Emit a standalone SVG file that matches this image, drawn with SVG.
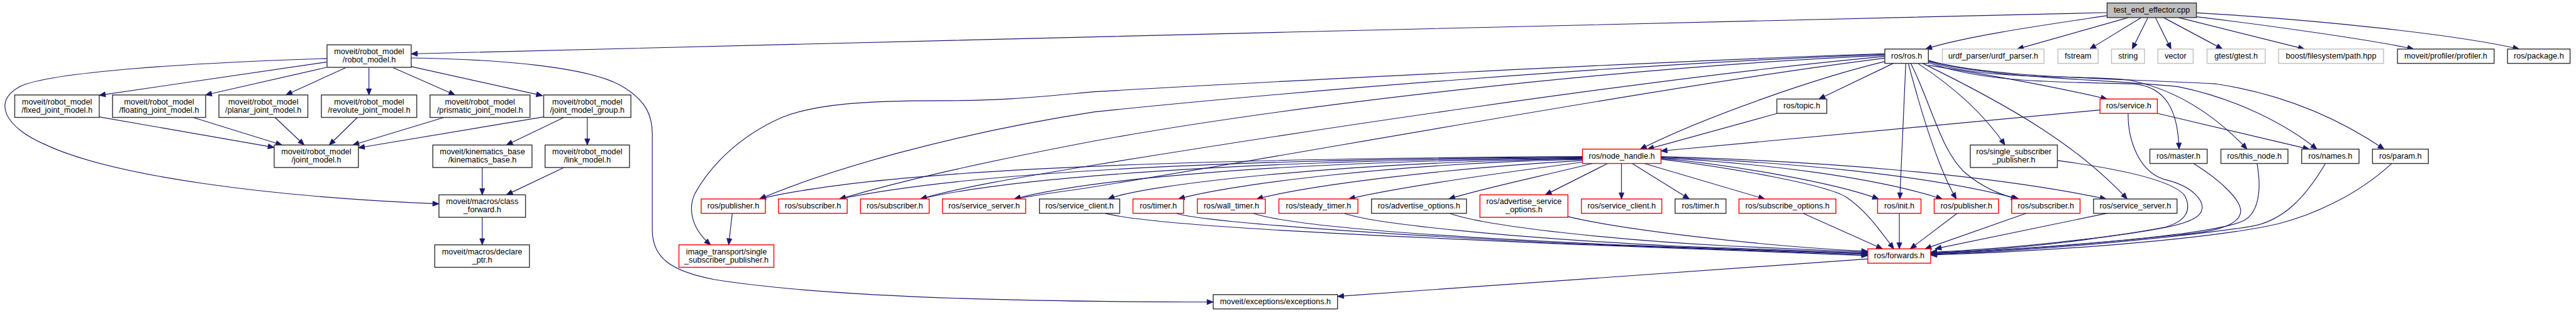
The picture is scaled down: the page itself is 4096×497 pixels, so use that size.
<svg xmlns="http://www.w3.org/2000/svg" width="4096" height="497" viewBox="0 0 4096 497">
<defs>
<marker id="ar" markerWidth="12" markerHeight="10" refX="11" refY="4.5" orient="auto" markerUnits="userSpaceOnUse" overflow="visible">
<path d="M0,0 L11,4.5 L0,9 z" fill="#191970" stroke="#191970" stroke-width="1"/>
</marker>
</defs>
<style>
rect{fill:#fff;stroke-width:1.6}
.b{stroke:#333}
.r{stroke:#ff0000}
.g{stroke:#bfbfbf}
.root{fill:#bfbfbf;stroke:#333}
text{font-family:"Liberation Sans",Arial,sans-serif;font-size:14.3px;fill:#000;text-anchor:middle}
#edges path{fill:none;stroke:#191970;stroke-width:1.3;marker-end:url(#ar)}
</style>
<rect x="0" y="0" width="4096" height="497" style="fill:#fff;stroke:none"/>
<g transform="scale(0.888)">
<g id="edges">
<path d="M3773,22.5 C2800,45 1700,72 736.3,96.3"/>
<path d="M3773,28 C3680,42 3520,64 3448,87.7"/>
<path d="M3811,31.4 L3612,87.7"/>
<path d="M3834,31.4 L3742,87.7"/>
<path d="M3846,31.4 L3818,87.7"/>
<path d="M3859.6,31.4 L3887.5,87.7"/>
<path d="M3874,31.4 L3979.6,87.7"/>
<path d="M3901,31.4 L4126.5,87.7"/>
<path d="M3933,30 C4060,45 4250,72 4322,87.7"/>
<path d="M3933,23 C4150,35 4400,62 4511,87.7"/>
<path d="M584.5,111 L177.6,170.4"/>
<path d="M584.5,120.5 L368,169.8"/>
<path d="M619,121 L512,169.8"/>
<path d="M660.6,121 L660.6,169.8"/>
<path d="M704,121 L814.8,169.8"/>
<path d="M736,119 L971.5,171"/>
<path d="M585.6,104.6 C350,112 90,128 35,155 C-15,182 10,228 80,258 C200,315 480,352 786,364.5"/>
<path d="M736.3,103.6 C900,106 1050,120 1110,152 C1160,180 1168,210 1168,240 L1168,411 C1168,460 1200,485 1280,500 C1500,535 1900,540 2172.4,540"/>
<path d="M177.6,209 L491,263.6"/>
<path d="M345.7,210 L505,259.3"/>
<path d="M492.5,210 L544.7,259.3"/>
<path d="M640,210 L589.5,259.3"/>
<path d="M794.9,210 L631.7,259.3"/>
<path d="M973.5,209 L641.7,264.3"/>
<path d="M1009.8,210 L906.8,259.3"/>
<path d="M1051.6,210 L1051.6,259.3"/>
<path d="M863.5,299.5 L863.5,348.4"/>
<path d="M1009.8,299.5 L906.8,348.4"/>
<path d="M863.5,388.6 L863.5,437.8"/>
<path d="M1311.2,381.4 L1304.8,437.8"/>
<path d="M3375,96 C3000,108 2200,150 1960,164 C1850,174 1800,180 1685,180 C1550,180 1460,186 1400,210 C1320,245 1270,300 1245,345 C1230,375 1240,410 1272.4,437.8"/>
<path d="M3375,97 C2900,115 2300,165 1960,200 C1700,240 1480,305 1360,355.8"/>
<path d="M3375,99 C2900,120 2300,190 1960,252 C1750,292 1620,322 1503,355.8"/>
<path d="M3375,101 C2950,140 2300,240 1960,295 C1820,318 1720,335 1648,355.8"/>
<path d="M3375,104 C3000,150 2300,280 1940,337 C1880,345 1850,350 1816,355.8"/>
<path d="M3390,113.3 L3257,177.1"/>
<path d="M3375,110 C3250,140 3050,210 2937,266.7"/>
<path d="M3181.7,203 L2950,266.7"/>
<path d="M3760.3,196.7 L2974.2,270"/>
<path d="M3412.5,113.3 L3401.8,355.8"/>
<path d="M3417,113.3 C3440,200 3470,300 3503,355.8"/>
<path d="M3421.4,113.3 C3460,190 3475,270 3520,310 C3550,335 3580,348 3612.5,355.8"/>
<path d="M3434,113.3 C3490,150 3550,200 3590,259.3"/>
<path d="M3443,113.3 C3600,190 3720,260 3809,355.8"/>
<path d="M3453,116.7 C3600,140 3700,160 3773,177.1"/>
<path d="M3453,112 C3560,150 3700,146 3820,150 C3880,155 3900,200 3901.8,266.7"/>
<path d="M3453,110 C3560,145 3700,133 3811,143 C3900,160 3970,210 4023.6,266.7"/>
<path d="M3453,109 C3560,140 3750,140 3900,155 C4000,175 4090,220 4148.7,266.7"/>
<path d="M3453,108 C3560,140 3800,140 3968,150 C4100,170 4200,220 4269,266.7"/>
<path d="M3863,202.7 L4135,266.7"/>
<path d="M3810.7,202.7 C3810,250 3830,310 3880,322 C3930,335 3945,360 3943,373 C3940,400 3880,410 3700,433 C3600,445 3520,450 3457,452"/>
<path d="M3684,287 C3780,300 3890,320 3912,350 C3925,375 3915,395 3878,406 C3780,425 3600,445 3457,451"/>
<path d="M3927.7,292.3 C3980,325 4015,360 4012,380 C4008,405 3960,415 3900,420 C3750,435 3600,448 3457,453"/>
<path d="M4041.5,292.3 C4050,340 4045,385 4012,397 C3950,420 3700,442 3457,454"/>
<path d="M4164,292.3 C4130,350 4090,395 4030,405 C3900,425 3650,448 3457,455"/>
<path d="M4282.6,292.3 C4220,350 4140,385 4080,400 C3950,430 3650,450 3457,456"/>
<path d="M3773,381.4 L3465,445"/>
<path d="M3628,381.4 L3447,445"/>
<path d="M3504.5,381.4 L3420.5,445"/>
<path d="M3401,381.4 L3401,445"/>
<path d="M3228.6,381.4 L3371,445"/>
<path d="M2974.2,284.7 C3100,300 3270,330 3305,352 C3340,375 3365,410 3391,445"/>
<path d="M2974.2,283 C3100,295 3280,325 3364,355.8"/>
<path d="M2974.2,282 C3150,292 3350,315 3478,355.8"/>
<path d="M2974.2,281 C3200,290 3450,312 3615,355.8"/>
<path d="M2974.2,280 C3250,288 3550,310 3771.5,355.8"/>
<path d="M2878.7,292.3 L2767,348.4"/>
<path d="M2903.5,292.3 L2903.5,355.8"/>
<path d="M2922.4,292.3 L3025,355.8"/>
<path d="M2944,292.3 L3160,355.8"/>
<path d="M2852,292.3 C2760,315 2650,338 2594,355.8"/>
<path d="M2833.7,290 C2680,310 2500,335 2415,355.8"/>
<path d="M2833.7,287 C2600,300 2350,330 2250,355.8"/>
<path d="M2833.7,285 C2500,292 2200,330 2110,355.8"/>
<path d="M2833.7,284 C2400,290 2050,330 1984,355.8"/>
<path d="M2833.7,283 C2300,288 1950,320 1816,355.8"/>
<path d="M2833.7,282 C2200,286 1800,320 1648,355.8"/>
<path d="M2833.7,281 C2100,285 1700,315 1503,355.8"/>
<path d="M2833.7,280 C2000,284 1550,310 1360,355.8"/>
<path d="M1978.6,381.4 C2050,400 2300,415 2820,437 C3050,447 3250,452 3344.6,457"/>
<path d="M2106,381.4 C2150,395 2400,415 2800,435 C3050,445 3250,452 3344.6,455.5"/>
<path d="M2244,381.4 C2300,400 2500,420 2900,438 C3100,446 3250,451 3344.6,454"/>
<path d="M2407,381.4 C2460,400 2700,425 3000,440 C3150,446 3270,450 3344.6,452.5"/>
<path d="M2596,381.4 C2660,405 2900,430 3100,440 C3200,445 3290,449 3344.6,451"/>
<path d="M2805,386.7 C2900,410 3150,440 3344.6,449.5"/>
<path d="M3344.6,463 L2395,530"/>
</g>
<g id="n0"><rect class="root" x="3773" y="5.4" width="160" height="26"/><text x="3853" y="22.4">test_end_effector.cpp</text></g>
<g id="n1"><rect class="b" x="585.6" y="80.2" width="150.7" height="40.2"/><text x="661" y="97">moveit/robot_model</text><text x="661" y="111.5">/robot_model.h</text></g>
<g id="n2"><rect class="b" x="3375" y="87.7" width="78" height="25.6"/><text x="3414" y="104.7">ros/ros.h</text></g>
<g id="n3"><rect class="g" x="3478" y="87.7" width="182" height="25.6"/><text x="3569" y="104.7">urdf_parser/urdf_parser.h</text></g>
<g id="n4"><rect class="g" x="3685" y="87.7" width="72" height="25.6"/><text x="3721" y="104.7">fstream</text></g>
<g id="n5"><rect class="g" x="3781" y="87.7" width="59" height="25.6"/><text x="3810.5" y="104.7">string</text></g>
<g id="n6"><rect class="g" x="3864" y="87.7" width="63" height="25.6"/><text x="3895.5" y="104.7">vector</text></g>
<g id="n7"><rect class="g" x="3952" y="87.7" width="104" height="25.6"/><text x="4004" y="104.7">gtest/gtest.h</text></g>
<g id="n8"><rect class="g" x="4080" y="87.7" width="188" height="25.6"/><text x="4174" y="104.7">boost/filesystem/path.hpp</text></g>
<g id="n9"><rect class="b" x="4293" y="87.7" width="173" height="25.6"/><text x="4379.5" y="104.7">moveit/profiler/profiler.h</text></g>
<g id="n10"><rect class="b" x="4490" y="87.7" width="112" height="25.6"/><text x="4546" y="104.7">ros/package.h</text></g>
<g id="n11"><rect class="b" x="26.4" y="169.8" width="151.2" height="40.2"/><text x="102" y="186.6">moveit/robot_model</text><text x="102" y="201.1">/fixed_joint_model.h</text></g>
<g id="n12"><rect class="b" x="201.5" y="169.8" width="166.7" height="40.2"/><text x="284.9" y="186.6">moveit/robot_model</text><text x="284.9" y="201.1">/floating_joint_model.h</text></g>
<g id="n13"><rect class="b" x="392" y="169.8" width="159.2" height="40.2"/><text x="471.6" y="186.6">moveit/robot_model</text><text x="471.6" y="201.1">/planar_joint_model.h</text></g>
<g id="n14"><rect class="b" x="575.5" y="169.8" width="170.7" height="40.2"/><text x="660.9" y="186.6">moveit/robot_model</text><text x="660.9" y="201.1">/revolute_joint_model.h</text></g>
<g id="n15"><rect class="b" x="770" y="169.8" width="179" height="40.2"/><text x="859.5" y="186.6">moveit/robot_model</text><text x="859.5" y="201.1">/prismatic_joint_model.h</text></g>
<g id="n16"><rect class="b" x="973.5" y="169.8" width="156.2" height="40.2"/><text x="1051.6" y="186.6">moveit/robot_model</text><text x="1051.6" y="201.1">/joint_model_group.h</text></g>
<g id="n17"><rect class="b" x="3181.7" y="177.1" width="89.3" height="25.6"/><text x="3226.4" y="194.1">ros/topic.h</text></g>
<g id="n18"><rect class="r" x="3760.3" y="177.1" width="102.7" height="25.6"/><text x="3811.7" y="194.1">ros/service.h</text></g>
<g id="n19"><rect class="b" x="491" y="259.3" width="150.7" height="40.2"/><text x="566.4" y="276.1">moveit/robot_model</text><text x="566.4" y="290.6">/joint_model.h</text></g>
<g id="n20"><rect class="b" x="775" y="259.3" width="177.6" height="40.2"/><text x="863.8" y="276.1">moveit/kinematics_base</text><text x="863.8" y="290.6">/kinematics_base.h</text></g>
<g id="n21"><rect class="b" x="976" y="259.3" width="151.2" height="40.2"/><text x="1051.6" y="276.1">moveit/robot_model</text><text x="1051.6" y="290.6">/link_model.h</text></g>
<g id="n22"><rect class="r" x="2833.7" y="266.7" width="140.5" height="25.6"/><text x="2904" y="283.7">ros/node_handle.h</text></g>
<g id="n23"><rect class="b" x="3528" y="259.3" width="156" height="40.2"/><text x="3606" y="276.1">ros/single_subscriber</text><text x="3606" y="290.6">_publisher.h</text></g>
<g id="n24"><rect class="b" x="3849.6" y="266.7" width="102.6" height="25.6"/><text x="3900.9" y="283.7">ros/master.h</text></g>
<g id="n25"><rect class="b" x="3976.8" y="266.7" width="120" height="25.6"/><text x="4036.8" y="283.7">ros/this_node.h</text></g>
<g id="n26"><rect class="b" x="4121.4" y="266.7" width="102.7" height="25.6"/><text x="4172.8" y="283.7">ros/names.h</text></g>
<g id="n27"><rect class="b" x="4248.2" y="266.7" width="100" height="25.6"/><text x="4298.2" y="283.7">ros/param.h</text></g>
<g id="n28"><rect class="b" x="786" y="348.4" width="155" height="40.2"/><text x="863.5" y="365.2">moveit/macros/class</text><text x="863.5" y="379.7">_forward.h</text></g>
<g id="n29"><rect class="r" x="1255.5" y="355.8" width="115" height="25.6"/><text x="1313" y="372.8">ros/publisher.h</text></g>
<g id="n30"><rect class="r" x="1394" y="355.8" width="123" height="25.6"/><text x="1455.5" y="372.8">ros/subscriber.h</text></g>
<g id="n31"><rect class="r" x="1540.8" y="355.8" width="123" height="25.6"/><text x="1602.3" y="372.8">ros/subscriber.h</text></g>
<g id="n32"><rect class="r" x="1687.6" y="355.8" width="149" height="25.6"/><text x="1762.1" y="372.8">ros/service_server.h</text></g>
<g id="n33"><rect class="b" x="1861.2" y="355.8" width="143.8" height="25.6"/><text x="1933.1" y="372.8">ros/service_client.h</text></g>
<g id="n34"><rect class="r" x="2028.7" y="355.8" width="90.7" height="25.6"/><text x="2074.1" y="372.8">ros/timer.h</text></g>
<g id="n35"><rect class="r" x="2144" y="355.8" width="121.7" height="25.6"/><text x="2204.9" y="372.8">ros/wall_timer.h</text></g>
<g id="n36"><rect class="r" x="2290" y="355.8" width="141.5" height="25.6"/><text x="2360.8" y="372.8">ros/steady_timer.h</text></g>
<g id="n37"><rect class="b" x="2455.8" y="355.8" width="170" height="25.6"/><text x="2540.8" y="372.8">ros/advertise_options.h</text></g>
<g id="n38"><rect class="r" x="2650" y="348.4" width="157.5" height="40.2"/><text x="2728.8" y="365.2">ros/advertise_service</text><text x="2728.8" y="379.7">_options.h</text></g>
<g id="n39"><rect class="r" x="2831.7" y="355.8" width="144" height="25.6"/><text x="2903.7" y="372.8">ros/service_client.h</text></g>
<g id="n40"><rect class="b" x="2999.4" y="355.8" width="91.2" height="25.6"/><text x="3045" y="372.8">ros/timer.h</text></g>
<g id="n41"><rect class="r" x="3113.8" y="355.8" width="173.6" height="25.6"/><text x="3200.6" y="372.8">ros/subscribe_options.h</text></g>
<g id="n42"><rect class="r" x="3362" y="355.8" width="77.7" height="25.6"/><text x="3400.9" y="372.8">ros/init.h</text></g>
<g id="n43"><rect class="r" x="3463.4" y="355.8" width="115.2" height="25.6"/><text x="3521" y="372.8">ros/publisher.h</text></g>
<g id="n44"><rect class="r" x="3602.2" y="355.8" width="122.4" height="25.6"/><text x="3663.4" y="372.8">ros/subscriber.h</text></g>
<g id="n45"><rect class="b" x="3748.7" y="355.8" width="149.5" height="25.6"/><text x="3823.5" y="372.8">ros/service_server.h</text></g>
<g id="n46"><rect class="b" x="778.5" y="437.8" width="169.5" height="40.2"/><text x="863.3" y="454.6">moveit/macros/declare</text><text x="863.3" y="469.1">_ptr.h</text></g>
<g id="n47"><rect class="r" x="1215.7" y="437.8" width="170" height="40.2"/><text x="1300.7" y="454.6">image_transport/single</text><text x="1300.7" y="469.1">_subscriber_publisher.h</text></g>
<g id="n48"><rect class="r" x="3344.6" y="445" width="112.5" height="25.6"/><text x="3400.9" y="462">ros/forwards.h</text></g>
<g id="n49"><rect class="b" x="2172.4" y="526.8" width="222.6" height="25.6"/><text x="2283.7" y="543.8">moveit/exceptions/exceptions.h</text></g>
</g>
</svg>
